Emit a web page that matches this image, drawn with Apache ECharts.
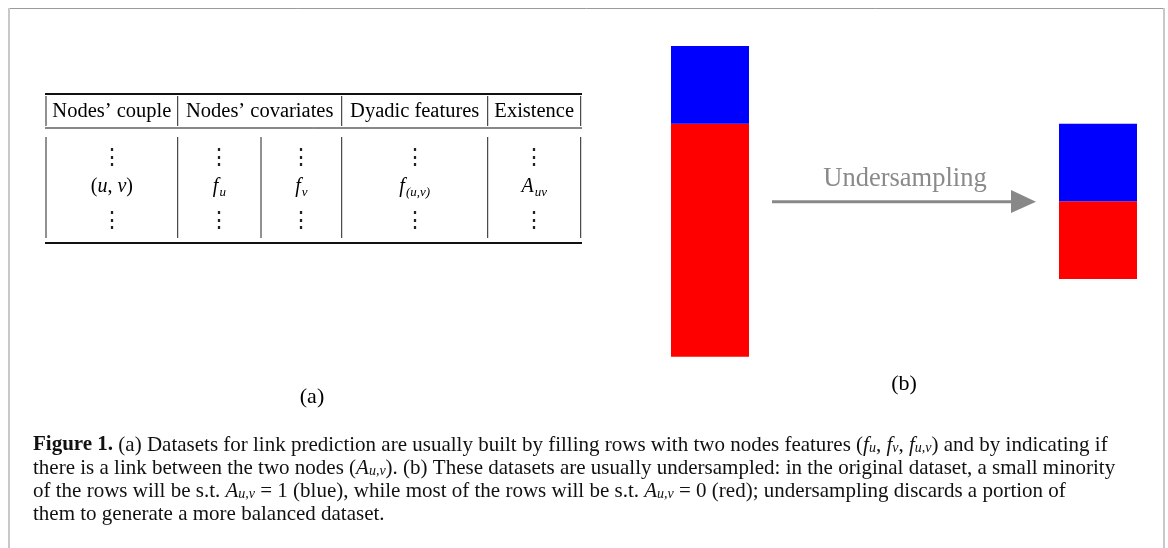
<!DOCTYPE html>
<html>
<head>
<meta charset="utf-8">
<script src="https://cdn.jsdelivr.net/npm/echarts@6/dist/echarts.min.js"></script>
<style>
html,body{margin:0;padding:0;background:#fff;}
#chart{width:1168px;height:548px;}
</style>
</head>
<body>
<div id="chart"></div>
<script>
// ---- data ----
const barGroups = ['Original dataset', 'Undersampled dataset'];
const offsetRows = [0, 1];          // invisible base under each stacked bar
const negativeRows = [3, 1];        // rows with A_uv = 0 (red)
const positiveRows = [1, 1];        // rows with A_uv = 1 (blue)
const axisMax = 4;
const arrowLabel = 'Undersampling';
const tableHeaders = ['Nodes\u2019 couple', 'Nodes\u2019 covariates', 'Dyadic features', 'Existence'];
const tableCells = ['(u, v)', '{i|f}{s|u}', '{i|f}{s|v}', '{i|f}{s|(u,v)}', '{i|A}{s|uv}'];
const panelLabels = ['(a)', '(b)'];
const captionLines = [
  '{b|Figure 1.} (a) Datasets for link prediction are usually built by filling rows with two nodes features ({i|f}{s|u}, {i|f}{s|v}, {i|f}{s|u,v}) and by indicating if',
  'there is a link between the two nodes ({i|A}{s|u,v}). (b) These datasets are usually undersampled: in the original dataset, a small minority',
  'of the rows will be s.t. {i|A}{s|u,v} = 1 (blue), while most of the rows will be s.t. {i|A}{s|u,v} = 0 (red); undersampling discards a portion of',
  'them to generate a more balanced dataset.'
];

// ---- layout ----
const serif = 'Liberation Serif';
const gridLefts = [671, 1059];
const grids = [], xAxes = [], yAxes = [], series = [];
barGroups.forEach((g, k) => {
  grids.push({left: gridLefts[k], width: 78, top: 46, bottom: 191.3, containLabel: false});
  xAxes.push({type: 'category', gridIndex: k, data: [g], show: false, boundaryGap: true});
  yAxes.push({type: 'value', gridIndex: k, min: 0, max: axisMax, show: false});
  const common = {type: 'bar', xAxisIndex: k, yAxisIndex: k, stack: 's' + k, barWidth: '100%', silent: true, animation: false};
  series.push(Object.assign({}, common, {name: 'offset', data: [offsetRows[k]], itemStyle: {color: 'rgba(0,0,0,0)'}}));
  series.push(Object.assign({}, common, {name: 'A=0', data: [negativeRows[k]], itemStyle: {color: '#ff0000'}}));
  series.push(Object.assign({}, common, {name: 'A=1', data: [positiveRows[k]], itemStyle: {color: '#0000ff'}}));
});

const graphic = [];
function line(x1, y1, x2, y2, w, c) {
  graphic.push({type: 'line', silent: true, shape: {x1, y1, x2, y2}, style: {stroke: c || '#000', lineWidth: w}});
}
function text(x, y, t, opts) {
  graphic.push({type: 'text', silent: true, x, y, style: Object.assign({text: t, fontFamily: serif, fill: '#000', align: 'center', verticalAlign: 'middle'}, opts || {})});
}

// frame
line(8, 8.5, 1165, 8.5, 1, '#9a9a9a');
line(9, 8, 9, 548, 2, '#c8c8c8');
line(1164, 8, 1164, 548, 2, '#c8c8c8');

// table
const tL = 46, tR = 581;
line(tL - 1, 94, tR + 1, 94, 2, '#111');
line(tL - 1, 128, tR + 1, 128, 1, '#111');
line(tL - 1, 243, tR + 1, 243, 2, '#111');
const headSep = [46, 177.7, 341.7, 487.7, 580.7];
headSep.forEach(x => line(x, 96, x, 126, 1, '#222'));
const bodySep = [46, 177.7, 261, 341.7, 487.7, 580.7];
bodySep.forEach(x => line(x, 137, x, 238, 1, '#222'));
tableHeaders.forEach((h, i) => {
  text((headSep[i] + headSep[i + 1]) / 2, 112, h, {fontSize: 20.5});
});
const mathRich = {
  i: {fontFamily: serif, fontStyle: 'italic', fontSize: 20, lineHeight: 24},
  s: {fontFamily: serif, fontStyle: 'italic', fontSize: 13, lineHeight: 14, verticalAlign: 'bottom', padding: [0, 0, 0, 1]}
};
tableCells.forEach((c, i) => {
  const cx = (bodySep[i] + bodySep[i + 1]) / 2;
  text(cx, 158, '\u22ee', {fontSize: 22, fontFamily: 'DejaVu Serif', fill: '#222'});
  const content = c.indexOf('{') === 0 ? c : c.replace(/\(/, '(').replace(/([a-z])/g, '{i|$1}');
  text(cx, 187, content, {rich: mathRich, fontSize: 20});
  text(cx, 221, '\u22ee', {fontSize: 22, fontFamily: 'DejaVu Serif', fill: '#222'});
});

// arrow
line(772, 201.7, 1013, 201.7, 3, '#888888');
graphic.push({type: 'polygon', silent: true, shape: {points: [[1011, 190], [1036, 201.7], [1011, 213]]}, style: {fill: '#888888'}});
text(905, 179, arrowLabel, {fontSize: 26.5, fill: '#8a8a8a'});

// panel labels
text(312, 397, panelLabels[0], {fontSize: 22});
text(904, 384, panelLabels[1], {fontSize: 22});

// caption
const capSize = 21;
const capRich = {
  b: {fontFamily: serif, fontWeight: 'bold', fontSize: capSize},
  i: {fontFamily: serif, fontStyle: 'italic', fontSize: capSize},
  s: {fontFamily: serif, fontStyle: 'italic', fontSize: 14, verticalAlign: 'bottom', lineHeight: 16}
};
const capY = [445, 468, 491, 514];
captionLines.forEach((l, i) => {
  text(33, capY[i], l, {align: 'left', fontSize: capSize, fill: '#111', rich: capRich});
});

const chart = echarts.init(document.getElementById('chart'), null, {renderer: 'canvas'});
chart.setOption({
  animation: false,
  backgroundColor: '#ffffff',
  grid: grids,
  xAxis: xAxes,
  yAxis: yAxes,
  series: series,
  graphic: {elements: graphic}
});
</script>
</body>
</html>
